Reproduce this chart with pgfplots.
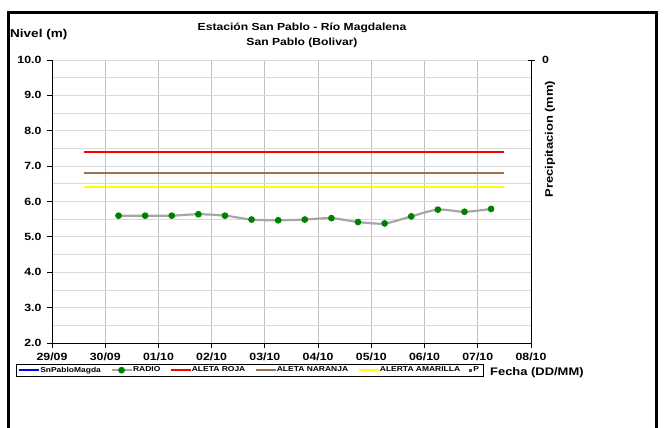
\documentclass[border=0pt]{standalone}
\usepackage{fontspec}
\setmainfont{Liberation Sans}[FakeStretch=1.18]
\usepackage{pgfplots}
\pgfplotsset{compat=1.18}

\definecolor{radiogray}{HTML}{A6A6A6}
\definecolor{dotgreen}{HTML}{008000}
\definecolor{brownline}{HTML}{9C7350}
\definecolor{alertyellow}{HTML}{FFFF00}
\definecolor{gridv}{HTML}{BFBFBF}
\definecolor{gridh}{HTML}{D9D9D9}

\newcommand{\tickfont}{\bfseries\fontsize{10.5}{12}\selectfont}
\newcommand{\legtxt}[1]{\kern-1.5bp #1\kern7.5bp}

\begin{document}
\begin{tikzpicture}[x=1bp,y=1bp]
\useasboundingbox (0,0) rectangle (664,-427);
\draw[line width=3bp] (8,-440) -- (8,-12) -- (656,-12) -- (656,-440);

\begin{axis}[
  at={(52bp,-343bp)}, anchor=south west, scale only axis,
  width=479bp, height=283bp,
  xmin=0, xmax=9, ymin=2, ymax=10,
  axis x line=bottom, axis y line=left,
  axis line style={-, black, line width=0.8bp},
  xtick={0,...,9},
  xticklabels={29/09,30/09,01/10,02/10,03/10,04/10,05/10,06/10,07/10,08/10},
  ytick={2,...,10}, minor ytick={2.5,3.5,...,9.5},
  xmajorgrids, ymajorgrids, yminorgrids,
  x grid style={gridv, line width=0.8bp},
  y grid style={gridh, line width=0.8bp},
  minor y grid style={gridh, line width=0.8bp},
  tick align=outside, major tick length=5bp, minor tick length=0pt,
  tick style={black, line width=0.8bp},
  /pgf/number format/.cd, fixed, fixed zerofill, precision=1, assume math mode=true,
  /pgfplots/.cd,
  ticklabel style={font=\tickfont},
  yticklabel style={xshift=-2bp},
  xticklabel style={yshift=-1bp},
  legend columns=6,
  legend image code/.code={
    \draw[mark repeat=2, mark phase=2] plot coordinates {(0bp,0bp) (10bp,0bp) (20bp,0bp)};},
  legend style={at={(-0.0752,-0.0742)}, anchor=north west,
    draw=black, line width=0.6bp, inner xsep=2bp, inner ysep=0.5bp,
    font=\bfseries\fontsize{7.2}{8}\selectfont},
]
\addlegendimage{blue, line width=1.5bp}
\addlegendentry{\legtxt{SnPabloMagda}}
\addplot[radiogray, line width=2.2bp, smooth, mark=*, mark size=2.2bp,
  mark options={draw=dotgreen, fill=dotgreen}] coordinates {
  (1.25,5.60) (1.75,5.60) (2.25,5.60) (2.75,5.64) (3.25,5.60)
  (3.75,5.49) (4.25,5.47) (4.75,5.49) (5.25,5.53) (5.75,5.42)
  (6.25,5.38) (6.75,5.58) (7.25,5.77) (7.75,5.71) (8.25,5.79)
};
\addlegendentry{\legtxt{RADIO}}
\addplot[red, line width=1.5bp] coordinates {(0.6,7.4) (8.5,7.4)};
\addlegendentry{\legtxt{ALETA ROJA}}
\addplot[brownline, line width=1.5bp] coordinates {(0.6,6.8) (8.5,6.8)};
\addlegendentry{\legtxt{ALETA NARANJA}}
\addplot[alertyellow, line width=1.8bp] coordinates {(0.6,6.4) (8.5,6.4)};
\addlegendentry{\legtxt{ALERTA AMARILLA}}
\addlegendimage{only marks, mark=square*, mark size=0.8bp, dotgreen}
\addlegendentry{P}
\end{axis}

\begin{axis}[
  at={(52bp,-343bp)}, anchor=south west, scale only axis,
  width=479bp, height=283bp,
  xmin=0, xmax=9, ymin=0, ymax=10, y dir=reverse,
  axis x line=none, axis y line=right,
  axis line style={-, black, line width=0.8bp},
  ytick={0}, tick align=center, major tick length=7bp,
  tick style={black, line width=0.8bp},
  /pgf/number format/assume math mode=true,
  yticklabel style={font=\tickfont, xshift=4bp},
]
\end{axis}

\node[font=\bfseries\fontsize{10.3}{12}\selectfont] at (302,-28) {Estación San Pablo - Río Magdalena};
\node[font=\bfseries\fontsize{10.3}{12}\selectfont] at (302,-43) {San Pablo (Bolivar)};
\node[font=\bfseries\fontsize{11.5}{12}\selectfont, anchor=west, inner sep=0pt] at (10,-35) {Nivel (m)};
\node[font=\bfseries\fontsize{11}{12}\selectfont, anchor=west, inner sep=0pt] at (490,-373) {Fecha (DD/MM)};
\node[font=\bfseries\fontsize{11}{12}\selectfont, rotate=90] at (550,-139) {Precipitacion (mm)};
\end{tikzpicture}
\end{document}
